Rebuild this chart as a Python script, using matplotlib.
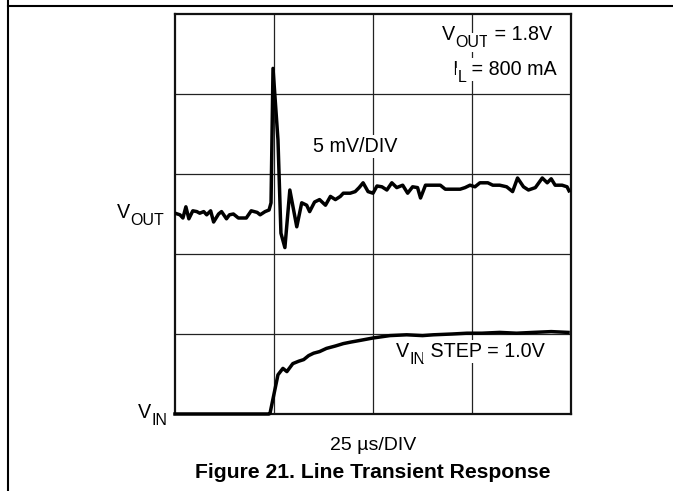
import matplotlib
matplotlib.use("Agg")
import matplotlib.pyplot as plt
from matplotlib.lines import Line2D

plt.rcParams['font.family'] = ['Liberation Sans', 'DejaVu Sans']

# time and level in scope divisions (4 x 5 grid)
vout_t = [0.00, 0.05, 0.08, 0.11, 0.14, 0.18, 0.22, 0.25, 0.29, 0.32, 0.36, 0.39,
          0.44, 0.47, 0.52, 0.55, 0.59, 0.64, 0.72, 0.77, 0.83, 0.86, 0.91, 0.95,
          0.97, 0.99, 1.04, 1.07, 1.11, 1.16, 1.23, 1.28, 1.33, 1.36, 1.41, 1.46,
          1.52, 1.57, 1.62, 1.67, 1.70, 1.77, 1.82, 1.86, 1.90, 1.95, 2.00, 2.04,
          2.09, 2.14, 2.19, 2.24, 2.30, 2.35, 2.40, 2.45, 2.48, 2.53, 2.58, 2.68,
          2.73, 2.88, 2.93, 2.98, 3.03, 3.08, 3.16, 3.21, 3.28, 3.35, 3.41, 3.46,
          3.52, 3.57, 3.64, 3.71, 3.76, 3.80, 3.84, 3.91, 3.96, 3.98]
vout_v = [2.51, 2.49, 2.45, 2.59, 2.44, 2.54, 2.53, 2.51, 2.53, 2.49, 2.54, 2.40,
          2.50, 2.53, 2.44, 2.49, 2.50, 2.45, 2.45, 2.54, 2.52, 2.49, 2.53, 2.55,
          2.64, 4.32, 3.43, 2.26, 2.08, 2.80, 2.34, 2.64, 2.61, 2.53, 2.65, 2.68,
          2.61, 2.72, 2.68, 2.72, 2.76, 2.76, 2.78, 2.83, 2.89, 2.78, 2.76, 2.85,
          2.84, 2.80, 2.89, 2.83, 2.86, 2.76, 2.84, 2.83, 2.70, 2.86, 2.86, 2.86,
          2.81, 2.81, 2.83, 2.86, 2.84, 2.89, 2.89, 2.86, 2.86, 2.84, 2.78, 2.95,
          2.84, 2.80, 2.83, 2.95, 2.89, 2.94, 2.86, 2.86, 2.84, 2.79]

vin_t = [0.00, 0.95, 0.96, 1.04, 1.09, 1.13, 1.19, 1.25, 1.30, 1.35, 1.40, 1.46,
         1.53, 1.62, 1.70, 1.78, 1.87, 2.00, 2.17, 2.34, 2.50, 2.61, 2.80, 2.95,
         3.10, 3.28, 3.45, 3.62, 3.80, 3.97]
vin_v = [0.00, 0.00, 0.01, 0.49, 0.57, 0.53, 0.63, 0.66, 0.68, 0.73, 0.76, 0.78,
         0.82, 0.85, 0.88, 0.90, 0.92, 0.95, 0.98, 0.99, 0.98, 0.99, 1.00, 1.01,
         1.01, 1.02, 1.01, 1.02, 1.03, 1.02]

fig = plt.figure(figsize=(6.73, 4.91), dpi=100)
W, H = 673, 491
ax = fig.add_axes([175 / W, 1 - 414 / H, 396 / W, 400 / H])
ax.set_xlim(0, 4)
ax.set_ylim(0, 5)
for x in [1, 2, 3]:
    ax.axvline(x, color='#222222', lw=0.9, zorder=1)
for y in [1, 2, 3, 4]:
    ax.axhline(y, color='#222222', lw=0.9, zorder=1)
ax.set_xticks([])
ax.set_yticks([])
for s in ax.spines.values():
    s.set_linewidth(1.6)
    s.set_color('#111111')

ax.plot(vout_t, vout_v, color='black', lw=2.5, zorder=4)
ax.plot(vin_t, vin_v, color='black', lw=2.5, zorder=4, clip_on=False)

renderer = fig.canvas.get_renderer()


def label(x, y, parts, ha='left', bg=True, size=14.2, sub_size=11.5, drop=7):
    # x, y in pixels from the top-left, y is the baseline
    pieces = []
    for s, is_sub in parts:
        t = fig.text(0, 0, s, fontsize=sub_size if is_sub else size, va='baseline', ha='left')
        w = t.get_window_extent(renderer).width
        pieces.append((t, w, is_sub))
    total = sum(w for _, w, _ in pieces)
    cx = x - total if ha == 'right' else x
    for t, w, is_sub in pieces:
        t.set_position((cx / W, 1 - (y + (drop if is_sub else 0)) / H))
        if bg:
            t.set_bbox(dict(facecolor='white', edgecolor='none', pad=1.2))
        cx += w


label(552, 40, [('V', False), ('OUT', True), (' = 1.8V', False)], ha='right')
label(557, 75, [('I', False), ('L', True), (' = 800 mA', False)], ha='right')
label(313, 152, [('5 mV/DIV', False)])
label(396, 357, [('V', False), ('IN', True), (' STEP = 1.0V', False)])
label(164, 218, [('V', False), ('OUT', True)], ha='right', bg=False)
label(167, 418, [('V', False), ('IN', True)], ha='right', bg=False)

fig.text(373 / W, 1 - 445 / H, '25 µs/DIV', ha='center', va='center', fontsize=14)
fig.text(373 / W, 1 - 472 / H, 'Figure 21. Line Transient Response', ha='center', va='center',
         fontsize=15.2, fontweight='bold')

# page frame lines
fig.add_artist(Line2D([8 / W, 1], [1 - 6 / H, 1 - 6 / H], color='black', lw=1.5))
fig.add_artist(Line2D([8 / W, 8 / W], [0, 1], color='black', lw=1.5))

fig.savefig('out.png', dpi=100)
